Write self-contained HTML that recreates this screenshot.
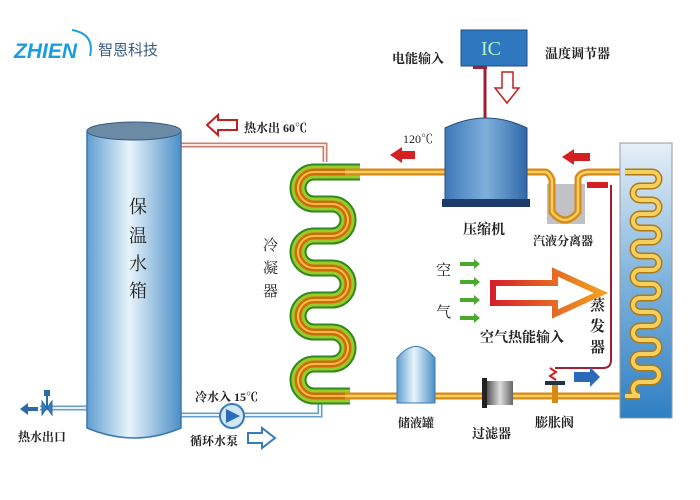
<!DOCTYPE html>
<html><head><meta charset="utf-8"><style>
html,body{margin:0;padding:0;background:#fff;}
svg{display:block;}
text{font-family:"Liberation Serif","Noto Serif CJK SC",serif;fill:#222;font-weight:bold;}
</style></head><body>
<svg width="700" height="500" viewBox="0 0 700 500" xmlns="http://www.w3.org/2000/svg">
<defs>
<linearGradient id="tank" x1="0" x2="1" y1="0" y2="0">
<stop offset="0" stop-color="#5f9ed0"/><stop offset="0.45" stop-color="#e8f4fb"/><stop offset="1" stop-color="#4b8fc8"/></linearGradient>
<linearGradient id="comp" x1="0" x2="1"><stop offset="0" stop-color="#3d78b8"/><stop offset="0.5" stop-color="#7fb0dc"/><stop offset="1" stop-color="#2f67a8"/></linearGradient>
<linearGradient id="evap" x1="0" x2="0" y1="0" y2="1"><stop offset="0" stop-color="#e6f0f8"/><stop offset="0.5" stop-color="#7fb3dd"/><stop offset="1" stop-color="#2f7fc4"/></linearGradient>
<linearGradient id="big" x1="0" x2="1"><stop offset="0" stop-color="#d8202a"/><stop offset="1" stop-color="#f0a020"/></linearGradient>
<linearGradient id="filt" x1="0" x2="1"><stop offset="0" stop-color="#555"/><stop offset="0.5" stop-color="#ddd"/><stop offset="1" stop-color="#666"/></linearGradient>
</defs>

<!-- logo -->
<text x="14" y="58" style="font-family:'Liberation Sans',sans-serif;font-style:italic;font-weight:bold;font-size:21px;fill:#1a9ee0">ZHIEN</text>
<path d="M72 30 Q95 34 90 56" stroke="#1a9ee0" stroke-width="2" fill="none"/>
<text x="98" y="55" style="font-family:'Liberation Sans','Noto Sans CJK SC',sans-serif;font-size:15px;fill:#3a5a80;font-weight:normal">智恩科技</text>

<!-- hot water out pipe -->
<path d="M181 145 H325 V162" stroke="#c98070" stroke-width="5" fill="none"/>
<path d="M181 145 H325 V162" stroke="#fbe6dc" stroke-width="2" fill="none"/>
<path d="M207 125 L218 115 V120 H237 V130 H218 V135 Z" fill="#fff" stroke="#c02020" stroke-width="2"/>
<text x="244" y="132" font-size="12">热水出 60℃</text>

<!-- cold water pipe -->
<path d="M181 415 H320 V395" stroke="#6a9cc4" stroke-width="5" fill="none"/>
<path d="M181 415 H320 V395" stroke="#e6f2fa" stroke-width="2" fill="none"/>
<path d="M87 408 H40" stroke="#6a9cc4" stroke-width="5" fill="none"/>
<path d="M87 408 H40" stroke="#e6f2fa" stroke-width="2" fill="none"/>
<path d="M42 401 L52 415 V401 L42 415 Z" fill="#3a7ab8" stroke="#2a6aa8"/>
<line x1="47" y1="408" x2="47" y2="395" stroke="#2a6aa8" stroke-width="2"/>
<rect x="44" y="390" width="6" height="6" fill="#2a6aa8"/>
<path d="M20 409 L28 403 V407 H38 V411 H28 V415 Z" fill="#2a6aa8"/>
<text x="18" y="441" font-size="12">热水出口</text>
<circle cx="232" cy="416" r="12" fill="#cfe6f6" stroke="#3a7ab8" stroke-width="2"/>
<path d="M226 409 L240 416 L226 423 Z" fill="#2a6ab8"/>
<text x="195" y="401" font-size="12">冷水入 15℃</text>
<text x="190" y="445" font-size="12">循环水泵</text>
<path d="M248 433 H262 V428 L275 438 L262 448 V443 H248 Z" fill="#fff" stroke="#3a7ab8" stroke-width="2"/>

<!-- tank -->
<path d="M87 132 Q134 115 181 132 V428 Q134 448 87 428 Z" fill="url(#tank)" stroke="#3a78b0" stroke-width="1.5"/>
<ellipse cx="134" cy="131" rx="47" ry="9" fill="#6a8aa6" stroke="#3a5a80"/>
<text x="129" y="213" font-size="18" style="font-weight:normal">保</text>
<text x="129" y="242" font-size="18" style="font-weight:normal">温</text>
<text x="129" y="270" font-size="18" style="font-weight:normal">水</text>
<text x="129" y="297" font-size="18" style="font-weight:normal">箱</text>

<!-- condenser -->
<g fill="none" stroke-linecap="butt">
<path d="M360 172 H314 A16 16 0 0 0 314 204 H332 A16 16 0 0 1 332 236 H314 A16 16 0 0 0 314 268 H332 A16 16 0 0 1 332 300 H314 A16 16 0 0 0 314 332 H332 A16 16 0 0 1 332 364 H314 A16 16 0 0 0 314 396 H350" stroke="#2d8a1e" stroke-width="17"/>
<path d="M360 172 H314 A16 16 0 0 0 314 204 H332 A16 16 0 0 1 332 236 H314 A16 16 0 0 0 314 268 H332 A16 16 0 0 1 332 300 H314 A16 16 0 0 0 314 332 H332 A16 16 0 0 1 332 364 H314 A16 16 0 0 0 314 396 H350" stroke="#9acb2a" stroke-width="13"/>
<path d="M360 172 H314 A16 16 0 0 0 314 204 H332 A16 16 0 0 1 332 236 H314 A16 16 0 0 0 314 268 H332 A16 16 0 0 1 332 300 H314 A16 16 0 0 0 314 332 H332 A16 16 0 0 1 332 364 H314 A16 16 0 0 0 314 396 H350" stroke="#d06a10" stroke-width="7"/>
<path d="M360 172 H314 A16 16 0 0 0 314 204 H332 A16 16 0 0 1 332 236 H314 A16 16 0 0 0 314 268 H332 A16 16 0 0 1 332 300 H314 A16 16 0 0 0 314 332 H332 A16 16 0 0 1 332 364 H314 A16 16 0 0 0 314 396 H350" stroke="#f5c040" stroke-width="2"/>
</g>
<text x="263" y="250" font-size="15" style="font-weight:normal">冷</text>
<text x="263" y="273" font-size="15" style="font-weight:normal">凝</text>
<text x="263" y="296" font-size="15" style="font-weight:normal">器</text>

<!-- refrigerant pipes -->
<g fill="none">
<path d="M345 172 H445 M527 172 H545 Q549 172 552 180 V212 Q565 228 578 212 V178 Q580 172 590 172 H630 M345 396 H630" stroke="#d88a18" stroke-width="7"/>
<path d="M345 172 H445 M527 172 H545 Q549 172 552 180 V212 Q565 228 578 212 V178 Q580 172 590 172 H630 M345 396 H630" stroke="#f7d060" stroke-width="2.5"/>
</g>
<path d="M390 155 L402 147 V151 H415 V159 H402 V163 Z" fill="#d42020"/>
<text x="403" y="143" font-size="12" style="font-weight:normal">120℃</text>

<!-- separator -->
<rect x="547" y="184" width="38" height="40" fill="#9a9aa0" opacity="0.6"/>
<path d="M552 180 V212 Q565 228 578 212 V178" stroke="#d88a18" stroke-width="7" fill="none"/>
<path d="M552 180 V212 Q565 228 578 212 V178" stroke="#f7d060" stroke-width="2.5" fill="none"/>
<path d="M562 157 L574 149 V153 H590 V161 H574 V165 Z" fill="#d42020"/>
<text x="533" y="245" font-size="12">汽液分离器</text>
<rect x="587" y="182" width="21" height="6" fill="#d42020"/>
<path d="M611 185 V360 Q611 368 603 368 H555" stroke="#a02030" stroke-width="2" fill="none"/>

<!-- compressor -->
<line x1="485" y1="65" x2="485" y2="118" stroke="#a02030" stroke-width="3"/>
<rect x="473" y="65" width="14" height="4" fill="#a02030"/>
<path d="M445 128 Q486 108 527 128 V200 H445 Z" fill="url(#comp)" stroke="#2a4a7a"/>
<rect x="442" y="199" width="88" height="8" fill="#1e3a6a"/>
<text x="463" y="234" font-size="14">压缩机</text>
<rect x="461" y="30" width="66" height="36" fill="#2f78c0" stroke="#1e4a80"/>
<text x="481" y="55" font-size="20" style="fill:#b8f0c8;font-weight:normal">IC</text>
<text x="392" y="63" font-size="13">电能输入</text>
<text x="545" y="58" font-size="13">温度调节器</text>
<path d="M502 72 H513 V88 H519 L507 103 L495 88 H502 Z" fill="#fff" stroke="#c02020" stroke-width="1.5"/>

<!-- evaporator -->
<rect x="620" y="143" width="52" height="275" fill="url(#evap)" stroke="#999"/>
<g fill="none">
<path d="M625 172 H652 A7 7 0 0 1 652 186 H640 A7 7 0 0 0 640 200 H652 A7 7 0 0 1 652 214 H640 A7 7 0 0 0 640 228 H652 A7 7 0 0 1 652 242 H640 A7 7 0 0 0 640 256 H652 A7 7 0 0 1 652 270 H640 A7 7 0 0 0 640 284 H652 A7 7 0 0 1 652 298 H640 A7 7 0 0 0 640 312 H652 A7 7 0 0 1 652 326 H640 A7 7 0 0 0 640 340 H652 A7 7 0 0 1 652 354 H640 A7 7 0 0 0 640 368 H652 A7 7 0 0 1 652 382 H640 A7 7 0 0 0 640 396 H625" stroke="#b07a10" stroke-width="7"/>
<path d="M625 172 H652 A7 7 0 0 1 652 186 H640 A7 7 0 0 0 640 200 H652 A7 7 0 0 1 652 214 H640 A7 7 0 0 0 640 228 H652 A7 7 0 0 1 652 242 H640 A7 7 0 0 0 640 256 H652 A7 7 0 0 1 652 270 H640 A7 7 0 0 0 640 284 H652 A7 7 0 0 1 652 298 H640 A7 7 0 0 0 640 312 H652 A7 7 0 0 1 652 326 H640 A7 7 0 0 0 640 340 H652 A7 7 0 0 1 652 354 H640 A7 7 0 0 0 640 368 H652 A7 7 0 0 1 652 382 H640 A7 7 0 0 0 640 396 H625" stroke="#f5d060" stroke-width="4"/>
</g>
<text x="590" y="310" font-size="15">蒸</text>
<text x="590" y="331" font-size="15">发</text>
<text x="590" y="352" font-size="15">器</text>

<!-- air -->
<text x="436" y="275" font-size="15" style="font-weight:normal">空</text>
<text x="436" y="317" font-size="15" style="font-weight:normal">气</text>
<g fill="#4aaa30">
<path d="M460 262 h14 v-3 l6 5 l-6 5 v-3 h-14z"/>
<path d="M460 280 h14 v-3 l6 5 l-6 5 v-3 h-14z"/>
<path d="M460 298 h14 v-3 l6 5 l-6 5 v-3 h-14z"/>
<path d="M460 316 h14 v-3 l6 5 l-6 5 v-3 h-14z"/>
</g>
<path d="M493 283 H555 V272 L601 293 L555 314 V303 H493 Z" fill="#fff" stroke="url(#big)" stroke-width="6"/>
<text x="480" y="342" font-size="14">空气热能输入</text>

<!-- liquid line components -->
<path d="M397 358 Q416 335 435 358 V403 H397 Z" fill="url(#tank)" stroke="#3a78b0"/>
<text x="398" y="427" font-size="12">储液罐</text>
<rect x="482" y="378" width="5" height="30" fill="#222"/>
<rect x="487" y="381" width="26" height="24" fill="url(#filt)"/>
<text x="472" y="438" font-size="13">过滤器</text>
<path d="M550 368 l6 4 l-6 4 l6 4" stroke="#d42020" stroke-width="2" fill="none"/>
<rect x="545" y="381" width="20" height="4" fill="#234"/>
<rect x="552" y="385" width="6" height="18" fill="#d88a18"/>
<path d="M574 372 H590 V367 L600 377 L590 387 V382 H574 Z" fill="#2a6ab8"/>
<text x="535" y="427" font-size="13">膨胀阀</text>
</svg>
</body></html>
